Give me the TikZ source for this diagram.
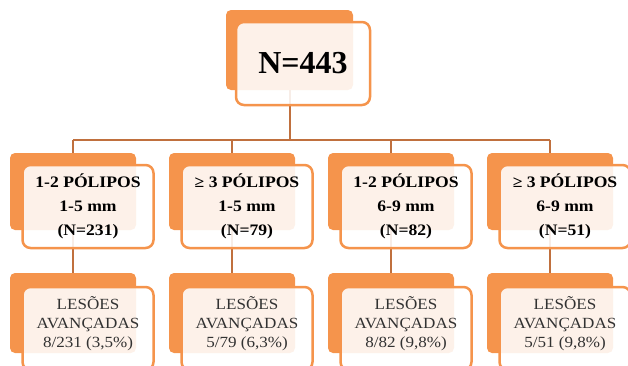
\documentclass[tikz,border=0pt]{standalone}
\usepackage{fontspec}
\setmainfont{Liberation Serif}
\newfontfamily\widefont[FakeStretch=1.1]{Liberation Serif}
\usetikzlibrary{calc}
\definecolor{polorange}{RGB}{245,148,76}
\definecolor{pollink}{RGB}{192,112,62}
\definecolor{poltext}{RGB}{50,50,50}

\begin{document}
\begin{tikzpicture}[
  x=1pt, y=-1pt,
  back/.style={rectangle, rounded corners=5pt, fill=polorange, inner sep=0pt,
               minimum width=126pt, minimum height=77pt},
  front/.style={rectangle, rounded corners=8pt, draw=polorange, line width=2.5pt,
                fill=white, fill opacity=0.88, text opacity=1, inner sep=0pt,
                minimum width=131pt, minimum height=83pt, align=center},
  link/.style={draw=pollink, line width=2pt},
  grp/.style={font=\widefont\fontsize{16}{24}\selectfont\bfseries, text=black},
  les/.style={align=center, font=\widefont\fontsize{15.5}{19}\selectfont, text=poltext}
]
  \useasboundingbox (0,0) rectangle (628,365);
  \clip (0,0) rectangle (628,365);

  % back plates
  \node[back, minimum width=127pt, minimum height=80pt] (rb) at (289.5,50) {};
  \node[back] (a1) at (73,191.5)  {};
  \node[back] (a2) at (232,191.5) {};
  \node[back] (a3) at (391,191.5) {};
  \node[back] (a4) at (550,191.5) {};
  \node[back, minimum height=80pt] (c1) at (73,313)  {};
  \node[back, minimum height=80pt] (c2) at (232,313) {};
  \node[back, minimum height=80pt] (c3) at (391,313) {};
  \node[back, minimum height=80pt] (c4) at (550,313) {};

  % connectors
  \coordinate (bar) at (289.5,140);
  \draw[link] (rb.south) -- (rb.south |- bar);
  \draw[link] (a1.north |- bar) -- (a4.north |- bar);
  \draw[link] (a1.north |- bar) -- (a1.north);
  \draw[link] (a2.north |- bar) -- (a2.north);
  \draw[link] (a3.north |- bar) -- (a3.north);
  \draw[link] (a4.north |- bar) -- (a4.north);
  \draw[link] (a1.south) -- (c1.north);
  \draw[link] (a2.south) -- (c2.north);
  \draw[link] (a3.south) -- (c3.north);
  \draw[link] (a4.south) -- (c4.north);

  % front boxes
  \node[front, minimum width=134pt, font=\fontsize{32}{36}\selectfont\bfseries]
       (rf) at (303,63.5) {N=443};
  \node[front, grp] (b1) at (88,206.5)  {1-2 PÓLIPOS\\1-5 mm\\(N=231)};
  \node[front, grp] (b2) at (247,206.5) {≥ 3 PÓLIPOS\\1-5 mm\\(N=79)};
  \node[front, grp] (b3) at (406,206.5) {1-2 PÓLIPOS\\6-9 mm\\(N=82)};
  \node[front, grp] (b4) at (565,206.5) {≥ 3 PÓLIPOS\\6-9 mm\\(N=51)};
  \node[front] (d1) at (88,328.5)  {};
  \node[front] (d2) at (247,328.5) {};
  \node[front] (d3) at (406,328.5) {};
  \node[front] (d4) at (565,328.5) {};

  \node[les] (t1) at ($(d1)+(0,-5)$) {LESÕES\\AVANÇADAS\\8/231 (3,5\%)};
  \node[les] (t2) at ($(d2)+(0,-5)$) {LESÕES\\AVANÇADAS\\5/79 (6,3\%)};
  \node[les] (t3) at ($(d3)+(0,-5)$) {LESÕES\\AVANÇADAS\\8/82 (9,8\%)};
  \node[les] (t4) at ($(d4)+(0,-5)$) {LESÕES\\AVANÇADAS\\5/51 (9,8\%)};
\end{tikzpicture}
\end{document}
